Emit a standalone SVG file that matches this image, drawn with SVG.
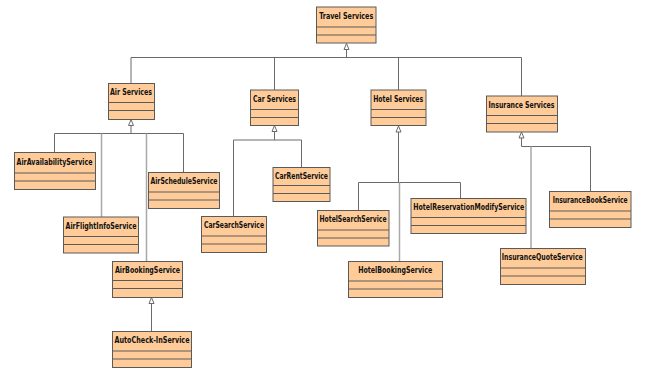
<svg xmlns="http://www.w3.org/2000/svg" width="645" height="371" viewBox="0 0 645 371">
<defs>
<style>
.box rect{fill:#FFCC99;stroke:#5a5a5a;stroke-width:1}
.box line{stroke:#5a5a5a;stroke-width:1}
.box text{font-family:"DejaVu Sans Condensed","Liberation Sans Narrow","Liberation Sans",sans-serif;font-weight:bold;font-size:8.5px;fill:#111;text-anchor:middle}
.c{fill:none;stroke:#6a6a6a;stroke-width:1}
.cl{fill:none;stroke:#a8a8a8;stroke-width:1.5}
.tri{fill:#fff;stroke:#6a6a6a;stroke-width:1}
</style>
</defs>
<rect width="645" height="371" fill="#fff"/>
<g id="connectors">
<path class="tri" d="M346.5,43.5 L344,49.5 L349,49.5 Z"/>
<path class="c" d="M346.5,49.5 V57.5 M131,57.5 H521.5 M131,57.5 V83.5 M274.5,57.5 V90 M398.5,57.5 V90 M521.5,57.5 V96"/>
<path class="tri" d="M131,119.5 L128.5,125.5 L133.5,125.5 Z"/>
<path class="c" d="M131,125.5 V133.5 M54.5,133.5 H183.5 M54.5,133.5 V152.5 M183.5,133.5 V172.5"/>
<path class="cl" d="M101.5,133.5 V217 M146.5,133.5 V261.5"/>
<path class="tri" d="M151.5,297.5 L149,303.5 L154,303.5 Z"/>
<path class="c" d="M151.5,303.5 V331.5"/>
<path class="tri" d="M274.5,125.5 L272,131.5 L277,131.5 Z"/>
<path class="c" d="M274.5,131.5 V140 M233.5,140 H301.5 M233.5,140 V216.5 M301.5,140 V167.5"/>
<path class="tri" d="M398.5,126 L396,132 L401,132 Z"/>
<path class="c" d="M398.5,132 V182.5 M358.5,182.5 H460.5 M358.5,182.5 V210.5 M460.5,182.5 V198.5"/>
<path class="cl" d="M399.5,182.5 V261.5"/>
<path class="tri" d="M521.5,132 L519,138 L524,138 Z"/>
<path class="c" d="M521.5,138 V146.5 H590.5 V191.5"/>
<path class="cl" d="M531,146.5 V248.5"/>
</g>
<g id="travel" class="box"><rect x="316.5" y="7" width="59.5" height="36"/><line x1="316.5" y1="27" x2="376" y2="27"/><line x1="316.5" y1="35" x2="376" y2="35"/><text x="346.2" y="18.5" textLength="54" lengthAdjust="spacingAndGlyphs">Travel Services</text></g>
<g id="air" class="box"><rect x="108.5" y="83.5" width="46" height="36"/><line x1="108.5" y1="102.5" x2="154.5" y2="102.5"/><line x1="108.5" y1="110.5" x2="154.5" y2="110.5"/><text x="131" y="95" textLength="42" lengthAdjust="spacingAndGlyphs">Air Services</text></g>
<g id="airavail" class="box"><rect x="14.5" y="152.5" width="81" height="37"/><line x1="14.5" y1="173" x2="95.5" y2="173"/><line x1="14.5" y1="181" x2="95.5" y2="181"/><text x="54.5" y="164.5" textLength="76" lengthAdjust="spacingAndGlyphs">AirAvailabilityService</text></g>
<g id="airsched" class="box"><rect x="148.5" y="172.5" width="71" height="36"/><line x1="148.5" y1="192" x2="219.5" y2="192"/><line x1="148.5" y1="200" x2="219.5" y2="200"/><text x="184" y="184" textLength="67" lengthAdjust="spacingAndGlyphs">AirScheduleService</text></g>
<g id="airflight" class="box"><rect x="63.5" y="217" width="75" height="36"/><line x1="63.5" y1="236.5" x2="138.5" y2="236.5"/><line x1="63.5" y1="244.5" x2="138.5" y2="244.5"/><text x="101" y="228.5" textLength="71" lengthAdjust="spacingAndGlyphs">AirFlightInfoService</text></g>
<g id="airbooking" class="box"><rect x="112.5" y="261.5" width="70" height="36"/><line x1="112.5" y1="280.5" x2="182.5" y2="280.5"/><line x1="112.5" y1="288.5" x2="182.5" y2="288.5"/><text x="147.5" y="273" textLength="65" lengthAdjust="spacingAndGlyphs">AirBookingService</text></g>
<g id="autocheck" class="box"><rect x="112.5" y="331.5" width="79" height="36"/><line x1="112.5" y1="351" x2="191.5" y2="351"/><line x1="112.5" y1="359" x2="191.5" y2="359"/><text x="152" y="343" textLength="75" lengthAdjust="spacingAndGlyphs">AutoCheck-InService</text></g>
<g id="car" class="box"><rect x="250.5" y="90" width="48" height="35.5"/><line x1="250.5" y1="109.5" x2="298.5" y2="109.5"/><line x1="250.5" y1="117.5" x2="298.5" y2="117.5"/><text x="274.5" y="101.5" textLength="43" lengthAdjust="spacingAndGlyphs">Car Services</text></g>
<g id="carrent" class="box"><rect x="273" y="167.5" width="57" height="34"/><line x1="273" y1="185.5" x2="330" y2="185.5"/><line x1="273" y1="193.5" x2="330" y2="193.5"/><text x="301.5" y="178.5" textLength="53" lengthAdjust="spacingAndGlyphs">CarRentService</text></g>
<g id="carsearch" class="box"><rect x="201.5" y="216.5" width="65" height="36"/><line x1="201.5" y1="236" x2="266.5" y2="236"/><line x1="201.5" y1="244" x2="266.5" y2="244"/><text x="234" y="228" textLength="60" lengthAdjust="spacingAndGlyphs">CarSearchService</text></g>
<g id="hotel" class="box"><rect x="371" y="90" width="55" height="35.5"/><line x1="371" y1="109.5" x2="426" y2="109.5"/><line x1="371" y1="117.5" x2="426" y2="117.5"/><text x="398.2" y="101.5" textLength="50" lengthAdjust="spacingAndGlyphs">Hotel Services</text></g>
<g id="hotelsearch" class="box"><rect x="317.5" y="210.5" width="71.5" height="35.5"/><line x1="317.5" y1="230" x2="389" y2="230"/><line x1="317.5" y1="238" x2="389" y2="238"/><text x="353" y="222" textLength="67" lengthAdjust="spacingAndGlyphs">HotelSearchService</text></g>
<g id="hotelresmod" class="box"><rect x="411" y="198.5" width="115" height="35"/><line x1="411" y1="217.5" x2="526" y2="217.5"/><line x1="411" y1="225.5" x2="526" y2="225.5"/><text x="468.8" y="210" textLength="111" lengthAdjust="spacingAndGlyphs">HotelReservationModifyService</text></g>
<g id="hotelbooking" class="box"><rect x="348.5" y="261.5" width="94" height="36"/><line x1="348.5" y1="281" x2="442.5" y2="281"/><line x1="348.5" y1="289" x2="442.5" y2="289"/><text x="395.2" y="273" textLength="74" lengthAdjust="spacingAndGlyphs">HotelBookingService</text></g>
<g id="insurance" class="box"><rect x="486.5" y="96" width="71" height="36"/><line x1="486.5" y1="115.5" x2="557.5" y2="115.5"/><line x1="486.5" y1="123.5" x2="557.5" y2="123.5"/><text x="521.5" y="107.5" textLength="66" lengthAdjust="spacingAndGlyphs">Insurance Services</text></g>
<g id="insbook" class="box"><rect x="549.5" y="191.5" width="81.5" height="36"/><line x1="549.5" y1="211" x2="631" y2="211"/><line x1="549.5" y1="219" x2="631" y2="219"/><text x="590.2" y="203" textLength="75" lengthAdjust="spacingAndGlyphs">InsuranceBookService</text></g>
<g id="insquote" class="box"><rect x="500.5" y="248.5" width="85" height="36"/><line x1="500.5" y1="268" x2="585.5" y2="268"/><line x1="500.5" y1="276" x2="585.5" y2="276"/><text x="542.3" y="260" textLength="81" lengthAdjust="spacingAndGlyphs">InsuranceQuoteService</text></g>
</svg>
